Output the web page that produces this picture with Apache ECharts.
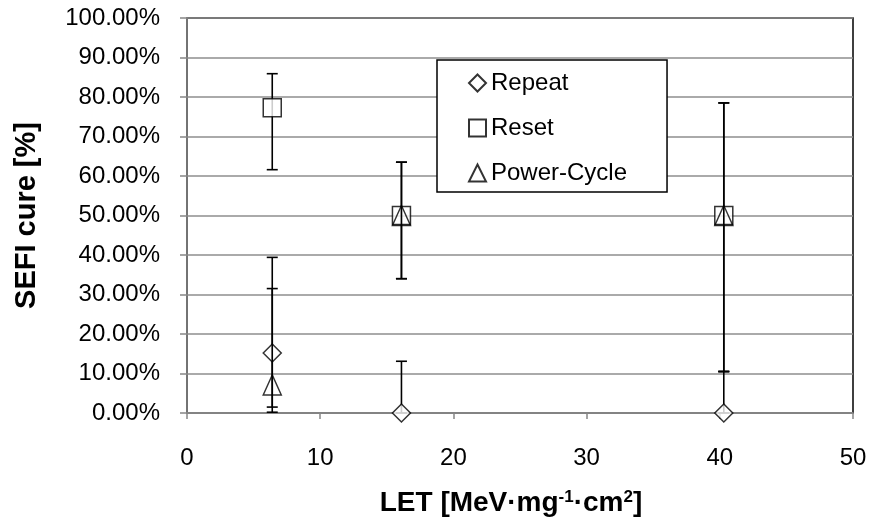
<!DOCTYPE html>
<html>
<head>
<meta charset="utf-8">
<script src="https://cdn.jsdelivr.net/npm/echarts@6/dist/echarts.min.js"></script>
<style>
  html, body { margin: 0; padding: 0; background: #fff; }
  #chart { width: 870px; height: 528px; }
</style>
</head>
<body>
<div id="chart"></div>
<script>
// LET values of the three test points
const letValues = [6.4, 16.1, 40.3];

// cure fraction [%] and error bar limits per recovery method
const repeatCure = [15.2, 0, 0];
const repeatLow = [1.5, 0, 0];
const repeatHigh = [39.4, 13.1, 10.5];

const resetCure = [77.3, 50, 50];
const resetLow = [61.6, 34.0, 10.5];
const resetHigh = [85.9, 63.5, 78.5];

const powerCure = [7.1, 50, 50];
const powerLow = [0.2, 34.0, 10.5];
const powerHigh = [31.5, 63.5, 78.5];

const font = "'Liberation Sans', Arial, sans-serif";

const pts = (ys) => letValues.map((x, i) => [x, ys[i]]);
const bars = (lo, hi) => letValues.map((x, i) => [x, lo[i], hi[i]]);

// vertical error bar with caps
const renderBar = (params, api) => {
  const x = api.value(0);
  const top = api.coord([x, api.value(2)]);
  const bot = api.coord([x, api.value(1)]);
  const half = 5.5;
  const style = { stroke: '#000', lineWidth: 1.6 };
  return {
    type: 'group',
    children: [
      { type: 'line', shape: { x1: top[0], y1: top[1], x2: bot[0], y2: bot[1] }, style },
      { type: 'line', shape: { x1: top[0] - half, y1: top[1], x2: top[0] + half, y2: top[1] }, style },
      { type: 'line', shape: { x1: bot[0] - half, y1: bot[1], x2: bot[0] + half, y2: bot[1] }, style }
    ]
  };
};

const chart = echarts.init(document.getElementById('chart'));
chart.setOption({
  animation: false,
  textStyle: { fontFamily: font },
  grid: {
    left: 187, right: 17, top: 18, bottom: 115,
    show: true, borderColor: '#000', borderWidth: 1.5, backgroundColor: '#fff'
  },
  legend: {
    data: ['Repeat', 'Reset', 'Power-Cycle'],
    orient: 'vertical',
    left: 437, top: 60,
    padding: [11, 40, 7, 31],
    itemGap: 21,
    itemWidth: 17, itemHeight: 17,
    backgroundColor: '#fff',
    borderColor: '#000', borderWidth: 1.5,
    textStyle: { fontFamily: font, fontSize: 24, color: '#000' }
  },
  xAxis: {
    type: 'value',
    min: 0, max: 50, interval: 10,
    name: 'LET [MeV·mg{sup|-1}·cm{sup|2}]',
    nameLocation: 'middle',
    nameGap: 76,
    nameTextStyle: {
      fontFamily: font, fontSize: 28, fontWeight: 'bold', color: '#000',
      padding: [0, 18, 0, 0],
      rich: {
        sup: { fontFamily: font, fontSize: 17, fontWeight: 'bold', color: '#000', verticalAlign: 'bottom', padding: [0, 0, 12, 0] }
      }
    },
    axisLine: { lineStyle: { color: '#868686', width: 1.5 } },
    axisTick: { show: true, length: 6, lineStyle: { color: '#868686', width: 1.5 } },
    axisLabel: { fontFamily: font, fontSize: 24, color: '#000', margin: 33 },
    splitLine: { show: false }
  },
  yAxis: {
    type: 'value',
    min: 0, max: 100, interval: 10,
    name: 'SEFI cure [%]',
    nameLocation: 'middle',
    nameGap: 146,
    nameTextStyle: { fontFamily: font, fontSize: 29, fontWeight: 'bold', color: '#000' },
    axisLine: { show: true, lineStyle: { color: '#868686', width: 1.5 } },
    axisTick: { show: true, length: 7, lineStyle: { color: '#868686', width: 1.5 } },
    axisLabel: {
      fontFamily: font, fontSize: 24, color: '#000', margin: 27,
      formatter: (v) => v.toFixed(2) + '%'
    },
    splitLine: { lineStyle: { color: '#8e8e8e', width: 1.5 } }
  },
  series: [
    { name: 'Repeat bars', type: 'custom', renderItem: renderBar, data: bars(repeatLow, repeatHigh), encode: { x: 0, y: [1, 2] }, z: 2 },
    {
      name: 'Repeat', type: 'scatter', data: pts(repeatCure), z: 3,
      symbol: 'diamond', symbolSize: 18,
      itemStyle: { color: '#fff', borderColor: '#000', borderWidth: 1.5 }
    },
    { name: 'Reset bars', type: 'custom', renderItem: renderBar, data: bars(resetLow, resetHigh), encode: { x: 0, y: [1, 2] }, z: 4 },
    {
      name: 'Reset', type: 'scatter', data: pts(resetCure), z: 5,
      symbol: 'rect', symbolSize: 18,
      itemStyle: { color: '#fff', borderColor: '#000', borderWidth: 1.5 }
    },
    { name: 'Power-Cycle bars', type: 'custom', renderItem: renderBar, data: bars(powerLow, powerHigh), encode: { x: 0, y: [1, 2] }, z: 6 },
    {
      name: 'Power-Cycle', type: 'scatter', data: pts(powerCure), z: 7,
      symbol: 'triangle', symbolSize: [18, 20],
      itemStyle: { color: 'rgba(255,255,255,0)', borderColor: '#000', borderWidth: 1.5 }
    }
  ]
});
</script>
</body>
</html>
